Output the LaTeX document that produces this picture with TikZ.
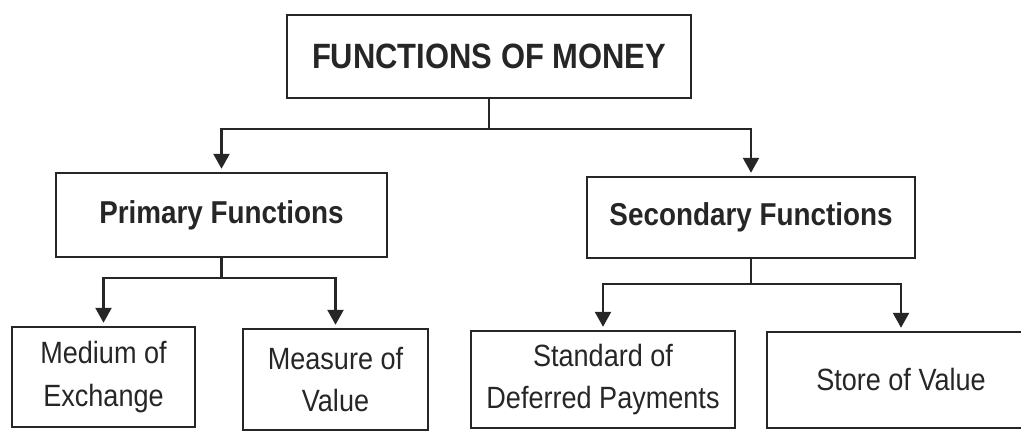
\documentclass[tikz,border=0pt]{standalone}
\usepackage{fontspec}
\setmainfont[FakeStretch=0.88]{Liberation Sans}
\usetikzlibrary{positioning,arrows.meta}

\begin{document}
\begin{tikzpicture}[
  >={Triangle[length=3mm,width=3.2mm]},
  box/.style={rectangle, draw=black!85, line width=1.4pt, align=center, inner sep=2pt, text=black!85},
  head/.style={box, font=\bfseries\fontsize{20}{24}\selectfont},
  mid/.style={box, font=\bfseries\fontsize{18}{22}\selectfont},
  leaf/.style={box, font=\fontsize{17.5}{24}\selectfont},
  e/.style={->, line width=1.4pt, draw=black!85, shorten >=0.6mm},
]
\useasboundingbox (0,0) rectangle (20.42,-8.64);
\node[head, minimum width=8.08cm, minimum height=1.66cm] (money) at (9.78,-1.13) {FUNCTIONS OF MONEY};
\node[mid,  minimum width=6.62cm, minimum height=1.68cm] (prim)  at (4.43,-4.30) {Primary Functions};
\node[mid,  minimum width=6.56cm, minimum height=1.62cm] (sec)   at (15.02,-4.35) {Secondary Functions};
\node[leaf, minimum width=3.66cm, minimum height=2.00cm] (med)   at (2.07,-7.54) {Medium of\\ Exchange};
\node[leaf, minimum width=3.70cm, minimum height=2.02cm] (meas)  at (6.71,-7.59) {Measure of\\ Value};
\node[leaf, minimum width=5.28cm, minimum height=1.94cm] (std)   at (12.06,-7.59) {Standard of\\ Deferred Payments};
\node[leaf, minimum width=5.36cm, minimum height=1.92cm] (store) at (18.02,-7.60) {Store of Value};

% top level
\draw[e] (money.south) -- ++(0,-0.6) -| (prim.north);
\draw[e] (money.south) -- ++(0,-0.6) -| (sec.north);
% primary
\draw[e] (prim.south) -- ++(0,-0.4) -| (med.north);
\draw[e] (prim.south) -- ++(0,-0.4) -| (meas.north);
% secondary
\draw[e] (sec.south) -- ++(0,-0.5) -| (std.north);
\draw[e] (sec.south) -- ++(0,-0.5) -| (store.north);
\end{tikzpicture}
\end{document}
